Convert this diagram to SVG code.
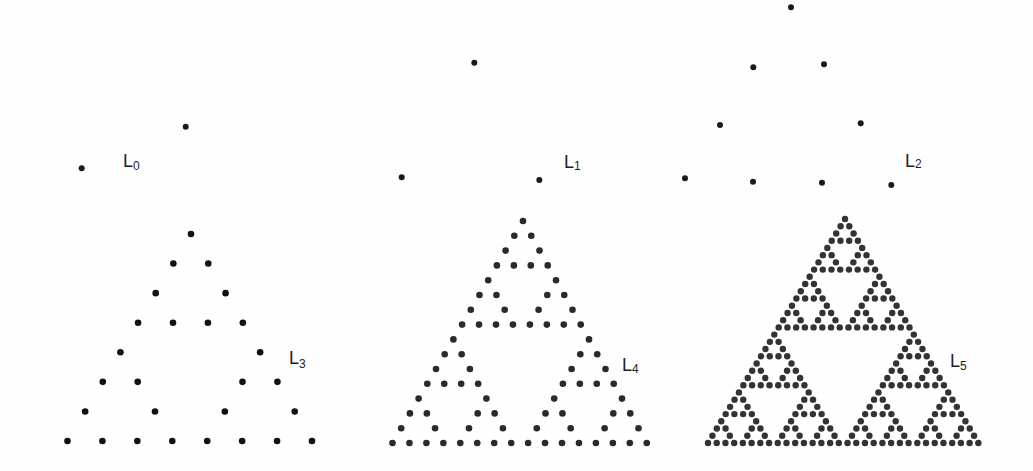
<svg xmlns="http://www.w3.org/2000/svg" xmlns:xlink="http://www.w3.org/1999/xlink" width="1033" height="471" viewBox="0 0 1033 471">
<style>
.lab{font-family:"Liberation Sans",Arial,sans-serif;font-size:18px;fill:#1e1e1e}
.sub{font-size:12px}
.d0{fill:#1a1a1a}
.d3{fill:#111111}
.d4{fill:#2a2a2a}
.d5{fill:#333333}
</style>
<defs>
<circle id="p3" r="3.3" class="d3"/>
<g id="a3"><use href="#p3"/><use href="#p3" transform="translate(-17.643,29.571)"/><use href="#p3" transform="translate(17.286,29.571)"/></g>
<g id="b3"><use href="#a3"/><use href="#a3" transform="translate(-35.286,59.143)"/><use href="#a3" transform="translate(34.571,59.143)"/></g>
<g id="c3"><use href="#b3"/><use href="#b3" transform="translate(-70.571,118.286)"/><use href="#b3" transform="translate(69.143,118.286)"/></g>

<circle id="p4" r="3.3" class="d4"/>
<g id="a4"><use href="#p4"/><use href="#p4" transform="translate(-8.7,14.8)"/><use href="#p4" transform="translate(8.25,14.8)"/></g>
<g id="b4"><use href="#a4"/><use href="#a4" transform="translate(-17.4,29.6)"/><use href="#a4" transform="translate(16.5,29.6)"/></g>
<g id="c4"><use href="#b4"/><use href="#b4" transform="translate(-34.8,59.2)"/><use href="#b4" transform="translate(33,59.2)"/></g>
<g id="e4"><use href="#c4"/><use href="#c4" transform="translate(-69.6,118.4)"/><use href="#c4" transform="translate(66,118.4)"/></g>

<circle id="p5" r="3.2" class="d5"/>
<g id="a5"><use href="#p5"/><use href="#p5" transform="translate(-4.419,7.226)"/><use href="#p5" transform="translate(4.301,7.226)"/></g>
<g id="b5"><use href="#a5"/><use href="#a5" transform="translate(-8.839,14.452)"/><use href="#a5" transform="translate(8.603,14.452)"/></g>
<g id="c5"><use href="#b5"/><use href="#b5" transform="translate(-17.677,28.903)"/><use href="#b5" transform="translate(17.206,28.903)"/></g>
<g id="e5"><use href="#c5"/><use href="#c5" transform="translate(-35.355,57.806)"/><use href="#c5" transform="translate(34.413,57.806)"/></g>
<g id="f5"><use href="#e5"/><use href="#e5" transform="translate(-70.71,115.613)"/><use href="#e5" transform="translate(68.826,115.613)"/></g>
</defs>
<rect width="1033" height="471" fill="#fefefe"/>

<g id="L0">
<circle cx="81.7" cy="168.3" r="3" class="d0"/>
<circle cx="185.7" cy="126.7" r="3" class="d0"/>
<text class="lab" x="123" y="167">L<tspan class="sub" dy="3">0</tspan></text>
</g>

<g id="L1">
<circle cx="474.3" cy="62.7" r="3" class="d0"/>
<circle cx="401.7" cy="177.3" r="3" class="d0"/>
<circle cx="539.3" cy="180" r="3" class="d0"/>
<text class="lab" x="564" y="168">L<tspan class="sub" dy="2">1</tspan></text>
</g>

<g id="L2">
<circle cx="791" cy="7.3" r="3" class="d0"/>
<circle cx="753.3" cy="67.3" r="3" class="d0"/>
<circle cx="824" cy="64.3" r="3" class="d0"/>
<circle cx="720" cy="125" r="3" class="d0"/>
<circle cx="860.7" cy="123.3" r="3" class="d0"/>
<circle cx="685" cy="178.3" r="3" class="d0"/>
<circle cx="753" cy="181.7" r="3" class="d0"/>
<circle cx="822" cy="182.7" r="3" class="d0"/>
<circle cx="891.3" cy="185" r="3" class="d0"/>
<text class="lab" x="905" y="167">L<tspan class="sub" dy="1">2</tspan></text>
</g>

<g id="L3">
<use href="#c3" transform="translate(191,234)"/>
<text class="lab" x="289" y="364">L<tspan class="sub" dy="4">3</tspan></text>
</g>

<g id="L4">
<use href="#e4" transform="translate(523,221)"/>
<text class="lab" x="622" y="371">L<tspan class="sub" dy="2">4</tspan></text>
</g>

<g id="L5">
<use href="#f5" transform="translate(845,219)"/>
<text class="lab" x="950" y="367">L<tspan class="sub" dy="3">5</tspan></text>
</g>
</svg>
